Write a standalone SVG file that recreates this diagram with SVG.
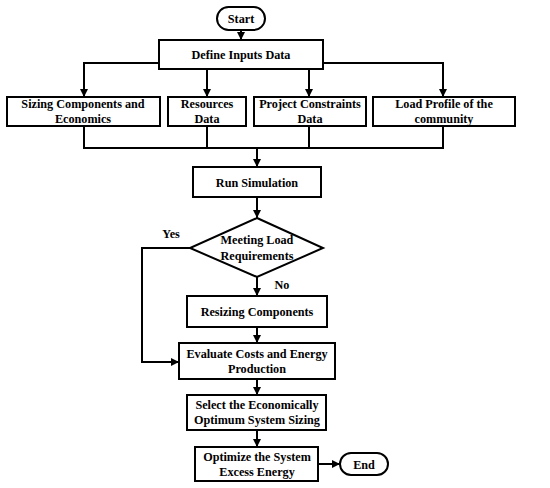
<svg xmlns="http://www.w3.org/2000/svg" width="550" height="488" viewBox="0 0 550 488">
<defs>
<marker id="ah" viewBox="0 0 10 10" refX="10" refY="5" markerWidth="4" markerHeight="4" orient="auto" markerUnits="strokeWidth">
<path d="M0,0 L10,5 L0,10 z" fill="#000"/>
</marker>
</defs>
<style>
.b{fill:#fff;stroke:#000;stroke-width:2}
.t{font-family:"Liberation Serif","Times New Roman",serif;font-weight:bold;font-size:12.2px;text-anchor:middle;fill:#000}
.c{fill:none;stroke:#000;stroke-width:2}
.a{marker-end:url(#ah)}
</style>
<rect width="550" height="488" fill="#fff"/>
<g id="connectors">
<path class="c a" d="M241,30 V40"/>
<path class="c a" d="M159,63 H84 V97"/>
<path class="c a" d="M323,63 H443 V97"/>
<path class="c a" d="M207,69 V97"/>
<path class="c a" d="M309,69 V97"/>
<path class="c" d="M84,126 V148 H443 V126"/>
<path class="c" d="M207,126 V148"/>
<path class="c" d="M309,126 V148"/>
<path class="c a" d="M257,148 V167"/>
<path class="c a" d="M257,197 V218"/>
<path class="c a" d="M190,248 H142 V362 H179"/>
<path class="c a" d="M257,277 V296"/>
<path class="c a" d="M257,327 V343"/>
<path class="c a" d="M257,379 V395"/>
<path class="c a" d="M257,430 V447"/>
<path class="c a" d="M318,464 H340"/>
<text class="t" x="171" y="238">Yes</text>
<text class="t" x="282" y="289">No</text>
</g>
<g id="start"><rect class="b" x="217" y="7" width="48" height="23" rx="11.5"/><text class="t" x="241" y="23">Start</text></g>
<g id="define"><rect class="b" x="159" y="40" width="164" height="29"/><text class="t" x="241" y="59">Define Inputs Data</text></g>
<g id="sizing"><rect class="b" x="7" y="97" width="153" height="29"/><text class="t" x="83" y="108">Sizing Components and</text><text class="t" x="83" y="123">Economics</text></g>
<g id="resources"><rect class="b" x="168" y="97" width="78" height="29"/><text class="t" x="207" y="108">Resources</text><text class="t" x="207" y="123">Data</text></g>
<g id="project"><rect class="b" x="254" y="97" width="112" height="29"/><text class="t" x="310" y="108">Project Constraints</text><text class="t" x="310" y="123">Data</text></g>
<g id="load"><rect class="b" x="373" y="97" width="142" height="29"/><text class="t" x="444" y="108">Load Profile of the</text><text class="t" x="444" y="123">community</text></g>
<g id="run"><rect class="b" x="193" y="167" width="128" height="30"/><text class="t" x="257" y="187">Run Simulation</text></g>
<g id="decision"><path class="b" d="M257,218 L323,248 L257,277 L190,248 Z"/><text class="t" x="257" y="244">Meeting Load</text><text class="t" x="257" y="260">Requirements</text></g>
<g id="resizing"><rect class="b" x="187" y="296" width="140" height="31"/><text class="t" x="257" y="316">Resizing Components</text></g>
<g id="evaluate"><rect class="b" x="179" y="343" width="156" height="36"/><text class="t" x="257" y="358">Evaluate Costs and Energy</text><text class="t" x="257" y="373">Production</text></g>
<g id="select"><rect class="b" x="187" y="395" width="139" height="35"/><text class="t" x="257" y="409">Select the Economically</text><text class="t" x="257" y="424">Optimum System Sizing</text></g>
<g id="optimize"><rect class="b" x="195" y="447" width="123" height="34"/><text class="t" x="257" y="461">Optimize the System</text><text class="t" x="257" y="476">Excess Energy</text></g>
<g id="end"><rect class="b" x="340" y="453" width="48" height="22" rx="11"/><text class="t" x="364" y="469">End</text></g>
</svg>
